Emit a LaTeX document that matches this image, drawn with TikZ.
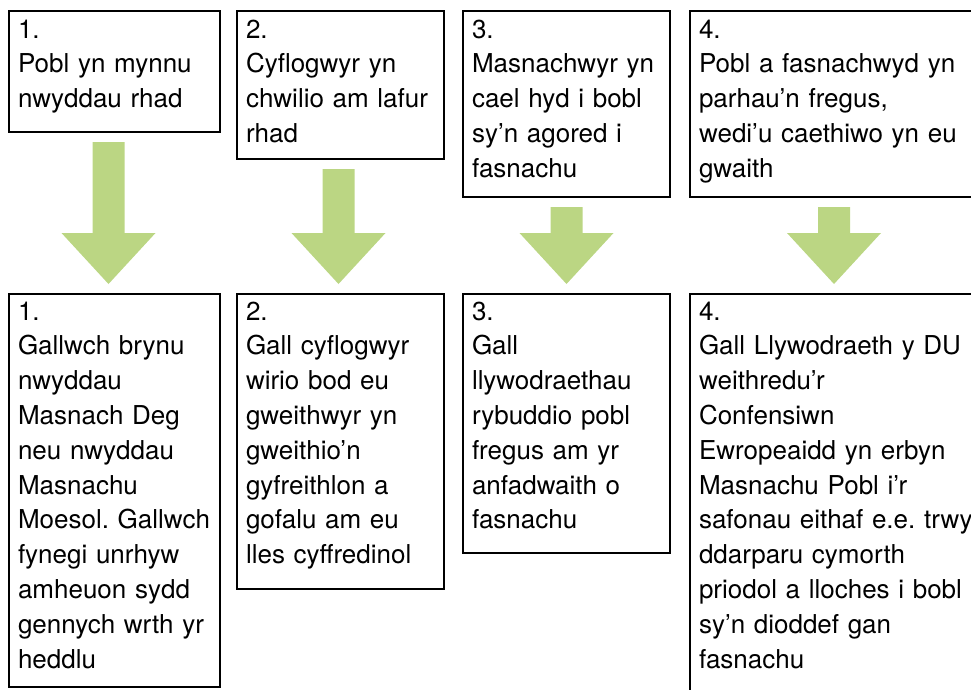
\documentclass[tikz,border=0pt]{standalone}
\usepackage{fontspec}
\setmainfont{TeX Gyre Heros}
\usetikzlibrary{calc}
\definecolor{arrowgreen}{RGB}{187,214,131}
\frenchspacing
\hyphenpenalty=10000

\begin{document}
\begin{tikzpicture}[x=1pt, y=-1pt, line width=2pt,
	main/.style = {draw, rectangle, anchor=north west, align=left, inner xsep=9pt, inner ysep=0pt,
		font=\fontsize{26}{34.8}\selectfont},
	top/.style = {main, text height=27pt},
	low/.style = {main, text height=26pt},
	arrow/.style = {fill=arrowgreen, draw=none}]
	\useasboundingbox (0,0) rectangle (971,689);
	\clip (0,0) rectangle (971,689);
	% causes
	\node[top, text width=193pt, text depth=94pt] (t1) at (8,10) {1.\\Pobl yn mynnu\\nwyddau rhad};
	\node[top, text width=189pt, text depth=121pt] (t2) at (236,10) {2.\\Cyflogwyr yn\\chwilio am lafur\\rhad};
	\node[top, text width=189pt, text depth=159pt] (t3) at (462,10) {3.\\Masnachwyr yn\\cael hyd i bobl\\sy’n agored i\\fasnachu};
	\node[top, text width=278pt, text depth=159pt] (t4) at (689,10) {4.\\Pobl a fasnachwyd yn\\parhau’n fregus,\\wedi’u caethiwo yn eu\\gwaith};
	% responses
	\node[low, text width=193pt, text depth=367pt] (b1) at (8,293) {1.\\Gallwch brynu\\nwyddau\\Masnach Deg\\neu nwyddau\\Masnachu\\Moesol. Gallwch\\fynegi unrhyw\\amheuon sydd\\gennych wrth yr\\heddlu};
	\node[low, text width=189pt, text depth=269pt] (b2) at (236,293) {2.\\Gall cyflogwyr\\wirio bod eu\\gweithwyr yn\\gweithio’n\\gyfreithlon a\\gofalu am eu\\lles cyffredinol};
	\node[low, text width=189pt, text depth=233pt] (b3) at (462,293) {3.\\Gall\\llywodraethau\\rybuddio pobl\\fregus am yr\\anfadwaith o\\fasnachu};
	\node[low, text width=278pt, text depth=420pt] (b4) at (689,293) {4.\\Gall Llywodraeth y DU\\weithredu’r\\Confensiwn\\Ewropeaidd yn erbyn\\Masnachu Pobl i’r\\safonau eithaf e.e. trwy\\ddarparu cymorth\\priodol a lloches i bobl\\sy’n dioddef gan\\fasnachu};
	% arrows
	\foreach \a/\b/\dx in {t1/b1/-6, t2/b2/-2, t3/b3/0, t4/b4/-4} {
		\fill[arrow] let \p1 = (\a.south), \p2 = (\b.north) in
			(\x1+\dx pt-16pt, \y1-9pt) -- (\x1+\dx pt+16pt, \y1-9pt)
			-- (\x1+\dx pt+16pt, \y2+60pt) -- (\x1+\dx pt+47pt, \y2+60pt)
			-- (\x1+\dx pt, \y2+9pt)
			-- (\x1+\dx pt-47pt, \y2+60pt) -- (\x1+\dx pt-16pt, \y2+60pt) -- cycle;
	}
\end{tikzpicture}
\end{document}
